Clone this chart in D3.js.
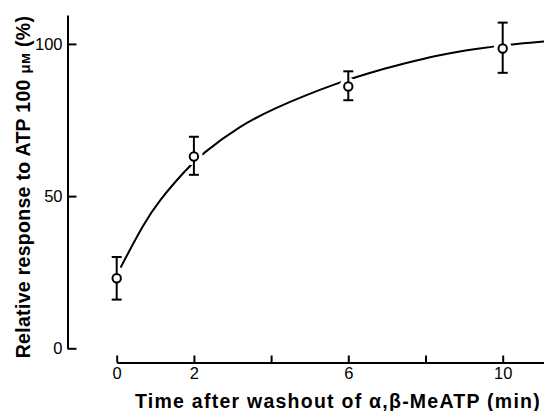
<!DOCTYPE html>
<html>
<head>
<style>
  body { margin: 0; background: #fff; }
  svg { font-family: "Liberation Sans", Arial, sans-serif; }
</style>
</head>
<body>
<div id="chart"></div>
<script src="https://cdn.jsdelivr.net/npm/d3@7"></script>
<script>
// measured points (time in min, response %)
var times = [0, 2, 6, 10];
var means = [23, 63, 86, 98.5];
var errLow = [16, 57, 81.5, 90.5];
var errHigh = [30, 69.5, 91, 107];

// fitted curve
var curveT = [0.1, 0.7, 1.1, 1.8, 2.2, 3.2, 4.1, 4.9, 5.7, 6.2, 6.8, 7.4, 8.3, 9.4, 10.2, 11.0, 11.3];
var curveY = [26.5, 41, 48.6, 58.8, 63.8, 73.2, 78.9, 83.2, 87.0, 89.1, 91.4, 93.4, 96.3, 98.6, 99.8, 100.7, 101.0];

var xTicks = [0, 2, 4, 6, 8, 10];
var xLabelled = [0, 2, 6, 10];
var yTicks = [0, 50, 100];

var width = 544, height = 411;

var svg = d3.select("#chart").append("svg")
    .attr("width", width)
    .attr("height", height);

var x = d3.scaleLinear().domain([0, 11.2]).range([116.7, 116.7 + 11.2 * 38.6]);
var y = d3.scaleLinear().domain([0, 109.5]).range([348.3, 15]);

// y axis
var yAxis = d3.axisLeft(y)
    .tickValues(yTicks)
    .tickSizeInner(-9)
    .tickSizeOuter(0)
    .tickPadding(5);

var gy = svg.append("g")
    .attr("transform", "translate(67.5,0)")
    .call(yAxis);
gy.select(".domain").attr("stroke-width", 2);
gy.selectAll(".tick line").attr("stroke-width", 2);
gy.selectAll(".tick text").attr("font-size", 16.5).attr("fill", "#000");

// x axis
var xAxis = d3.axisBottom(x)
    .tickValues(xTicks)
    .tickSizeInner(-7)
    .tickSizeOuter(0)
    .tickPadding(5)
    .tickFormat(function(d) { return xLabelled.indexOf(d) >= 0 ? d : ""; });

var gx = svg.append("g")
    .attr("transform", "translate(0,362.5)")
    .call(xAxis);
gx.select(".domain").attr("stroke-width", 2);
gx.selectAll(".tick line").attr("stroke-width", 2);
gx.selectAll(".tick text").attr("font-size", 16.5).attr("fill", "#000");

// axis titles
svg.append("text")
    .attr("x", 338)
    .attr("y", 407.5)
    .attr("text-anchor", "middle")
    .attr("font-size", 19.5)
    .attr("font-weight", "bold")
    .attr("letter-spacing", 1.25)
    .text("Time after washout of α,β-MeATP (min)");

var yt = svg.append("text")
    .attr("transform", "translate(30,187) rotate(-90)")
    .attr("text-anchor", "middle")
    .attr("font-size", 19.5)
    .attr("font-weight", "bold")
    .attr("letter-spacing", 0.3);
yt.append("tspan").text("Relative response to ATP 100 ");
yt.append("tspan").attr("font-size", 15).text("μм");
yt.append("tspan").text(" (%)");

// curve
var line = d3.line()
    .x(function(d, i) { return x(curveT[i]); })
    .y(function(d) { return y(d); })
    .curve(d3.curveBasis);

svg.append("path")
    .datum(curveY)
    .attr("d", line)
    .attr("fill", "none")
    .attr("stroke", "#000")
    .attr("stroke-width", 2);

// white gaps around markers
svg.selectAll(".halo")
    .data(times)
    .enter().append("circle")
    .attr("cx", function(d) { return x(d); })
    .attr("cy", function(d, i) { return y(means[i]); })
    .attr("r", 9)
    .attr("fill", "#fff");

// error bars
var eb = svg.selectAll(".err")
    .data(times)
    .enter().append("g");

eb.append("line")
    .attr("x1", function(d) { return x(d); })
    .attr("x2", function(d) { return x(d); })
    .attr("y1", function(d, i) { return y(errLow[i]); })
    .attr("y2", function(d, i) { return y(errHigh[i]); })
    .attr("stroke", "#000")
    .attr("stroke-width", 2);

eb.append("line")
    .attr("x1", function(d) { return x(d) - 5; })
    .attr("x2", function(d) { return x(d) + 5; })
    .attr("y1", function(d, i) { return y(errLow[i]); })
    .attr("y2", function(d, i) { return y(errLow[i]); })
    .attr("stroke", "#000")
    .attr("stroke-width", 2);

eb.append("line")
    .attr("x1", function(d) { return x(d) - 5; })
    .attr("x2", function(d) { return x(d) + 5; })
    .attr("y1", function(d, i) { return y(errHigh[i]); })
    .attr("y2", function(d, i) { return y(errHigh[i]); })
    .attr("stroke", "#000")
    .attr("stroke-width", 2);

// markers
svg.selectAll(".pt")
    .data(times)
    .enter().append("circle")
    .attr("cx", function(d) { return x(d); })
    .attr("cy", function(d, i) { return y(means[i]); })
    .attr("r", 4.2)
    .attr("fill", "#fff")
    .attr("stroke", "#000")
    .attr("stroke-width", 2);
</script>
</body>
</html>
